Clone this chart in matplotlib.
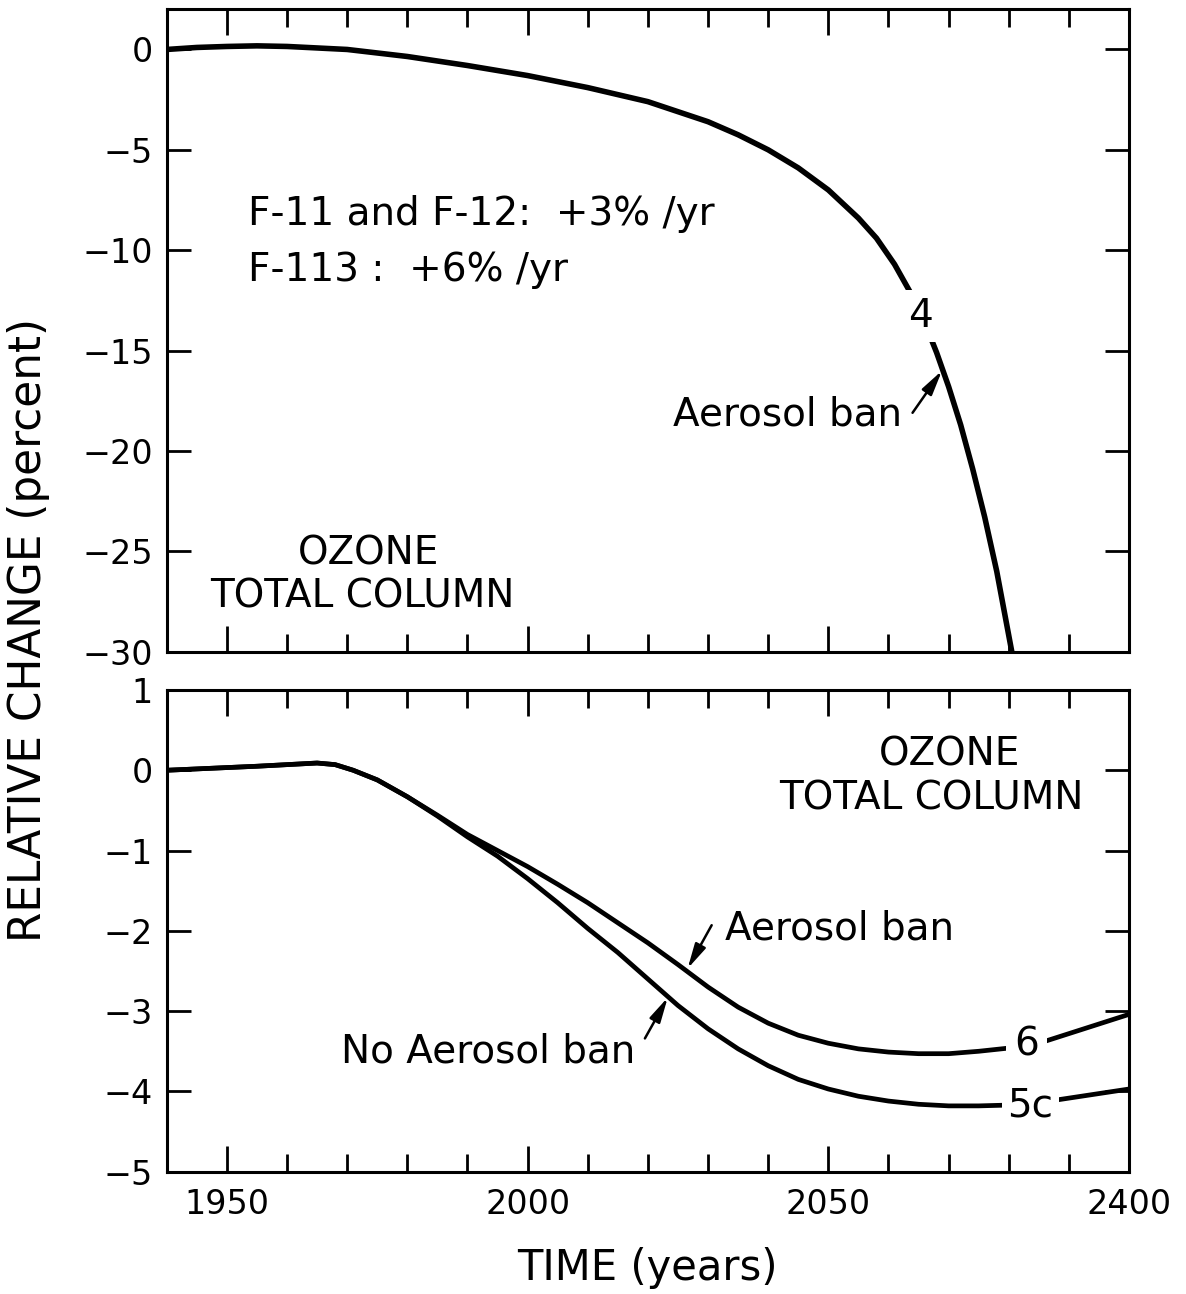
#!/usr/bin/env python3
import matplotlib

matplotlib.use("Agg")
import matplotlib.pyplot as plt

# top panel: case 4, F-11/F-12 +3%/yr, F-113 +6%/yr
TOP_YEARS = [1940, 1945, 1950, 1955, 1960, 1970, 1980, 1990, 2000, 2010,
             2020, 2030, 2035, 2040, 2045, 2050, 2055, 2058, 2061, 2064,
             2066, 2068, 2070, 2072, 2074, 2076, 2078, 2080.5]
TOP_CHANGE = [0.0, 0.1, 0.15, 0.18, 0.15, 0.0, -0.35, -0.8, -1.3, -1.9,
              -2.6, -3.6, -4.25, -5.0, -5.9, -7.0, -8.4, -9.4, -10.7, -12.3,
              -13.6, -15.1, -16.8, -18.7, -20.9, -23.3, -26.0, -30.0]

# bottom panel: case 6 (aerosol ban) and 5c (no aerosol ban)
BOT_YEARS = [1940, 1955, 1965, 1968, 1971, 1975, 1980, 1985, 1990, 1995,
             2000, 2005, 2010, 2015, 2020, 2025, 2030, 2035, 2040, 2045,
             2050, 2055, 2060, 2065, 2070, 2075, 2080, 2085, 2100]
CASE_6 = [0.0, 0.05, 0.09, 0.07, 0.0, -0.12, -0.33, -0.56, -0.8, -1.0,
          -1.2, -1.42, -1.65, -1.9, -2.15, -2.42, -2.7, -2.95, -3.15, -3.3,
          -3.4, -3.47, -3.51, -3.53, -3.53, -3.5, -3.46, -3.4, -3.04]
CASE_5C = [0.0, 0.05, 0.09, 0.07, 0.0, -0.12, -0.33, -0.57, -0.83, -1.07,
           -1.35, -1.65, -1.97, -2.27, -2.6, -2.93, -3.22, -3.47, -3.68,
           -3.85, -3.97, -4.06, -4.12, -4.16, -4.18, -4.18, -4.17, -4.14,
           -3.97]

X_MAJOR = [1950, 2000, 2050, 2100]
X_MAJOR_LABELS = ["1950", "2000", "2050", "2400"]
X_MINOR = [1960, 1970, 1980, 1990, 2010, 2020, 2030, 2040, 2060, 2070,
           2080, 2090]
TOP_YTICKS = [0, -5, -10, -15, -20, -25, -30]
BOT_YTICKS = [1, 0, -1, -2, -3, -4, -5]

TICK_FS = 24
TEXT_FS = 28
LABEL_FS = 30


def _style_axes(ax, yticks, ylim, show_xlabels):
    ax.set_xlim(1940, 2100)
    ax.set_ylim(*ylim)
    ax.set_xticks(X_MAJOR)
    ax.set_xticks(X_MINOR, minor=True)
    ax.set_yticks(yticks)
    ax.set_yticklabels([f"{t}".replace("-", "\u2212") for t in yticks])
    if show_xlabels:
        ax.set_xticklabels(X_MAJOR_LABELS)
    else:
        ax.set_xticklabels([])
    ax.tick_params(axis="x", which="major", direction="in", length=19,
                   width=2, top=True, bottom=True, labelsize=TICK_FS, pad=12)
    ax.tick_params(axis="x", which="minor", direction="in", length=13,
                   width=2, top=True, bottom=True)
    ax.tick_params(axis="y", which="major", direction="in", length=17,
                   width=2, left=True, right=True, labelsize=TICK_FS, pad=10)
    for spine in ax.spines.values():
        spine.set_linewidth(2.2)


def _arrow(ax, head, tail):
    ax.annotate("", xy=head, xytext=tail,
                arrowprops=dict(arrowstyle="-|>,head_length=1.5,head_width=0.35",
                                lw=1.8, color="black", shrinkA=0, shrinkB=0))


def main():
    fig = plt.figure(figsize=(11.86, 12.94), dpi=100)
    ax1 = fig.add_axes([0.1406, 0.4964, 0.8114, 0.4964])
    ax2 = fig.add_axes([0.1406, 0.0945, 0.8114, 0.3723])

    # top panel
    ax1.plot(TOP_YEARS, TOP_CHANGE, color="black", lw=4.0,
             solid_capstyle="butt")
    _style_axes(ax1, TOP_YTICKS, (-30, 2), False)
    ax1.text(1953.5, -8.2, "F-11 and F-12:  +3% /yr", fontsize=TEXT_FS,
             ha="left", va="center")
    ax1.text(1953.5, -11.0, "F-113 :  +6% /yr", fontsize=TEXT_FS,
             ha="left", va="center")
    ax1.text(1973.5, -25.1, "OZONE", fontsize=TEXT_FS, ha="center", va="center")
    ax1.text(1972.5, -27.25, "TOTAL COLUMN", fontsize=TEXT_FS, ha="center",
             va="center")
    ax1.text(2065.3, -13.3, "4", fontsize=TEXT_FS, ha="center", va="center",
             bbox=dict(facecolor="white", edgecolor="none", pad=5))
    ax1.text(2062.2, -18.2, "Aerosol ban", fontsize=TEXT_FS, ha="right",
             va="center")
    _arrow(ax1, (2068.9, -16.0), (2064.0, -18.1))

    # bottom panel
    ax2.plot(BOT_YEARS, CASE_6, color="black", lw=3.4)
    ax2.plot(BOT_YEARS, CASE_5C, color="black", lw=3.4)
    _style_axes(ax2, BOT_YTICKS, (-5, 1), True)
    ax2.text(2070.2, 0.19, "OZONE", fontsize=TEXT_FS, ha="center", va="center")
    ax2.text(2067.2, -0.35, "TOTAL COLUMN", fontsize=TEXT_FS, ha="center",
             va="center")
    ax2.text(2083.0, -3.42, "6", fontsize=TEXT_FS, ha="center", va="center",
             bbox=dict(facecolor="white", edgecolor="none", pad=6))
    ax2.text(2083.6, -4.18, "5c", fontsize=TEXT_FS, ha="center", va="center",
             bbox=dict(facecolor="white", edgecolor="none", pad=4))
    ax2.text(2032.8, -1.97, "Aerosol ban", fontsize=TEXT_FS, ha="left",
             va="center")
    _arrow(ax2, (2026.6, -2.47), (2030.6, -1.93))
    ax2.text(2017.9, -3.5, "No Aerosol ban", fontsize=TEXT_FS, ha="right",
             va="center")
    _arrow(ax2, (2023.3, -2.83), (2019.5, -3.34))

    fig.text(0.024, 0.513, "RELATIVE CHANGE (percent)", fontsize=31.5,
             rotation=90, ha="center", va="center")
    fig.text(0.546, 0.020, "TIME (years)", fontsize=LABEL_FS, ha="center",
             va="center")

    fig.savefig("out.png", dpi=100)
    plt.close(fig)


if __name__ == "__main__":
    main()
